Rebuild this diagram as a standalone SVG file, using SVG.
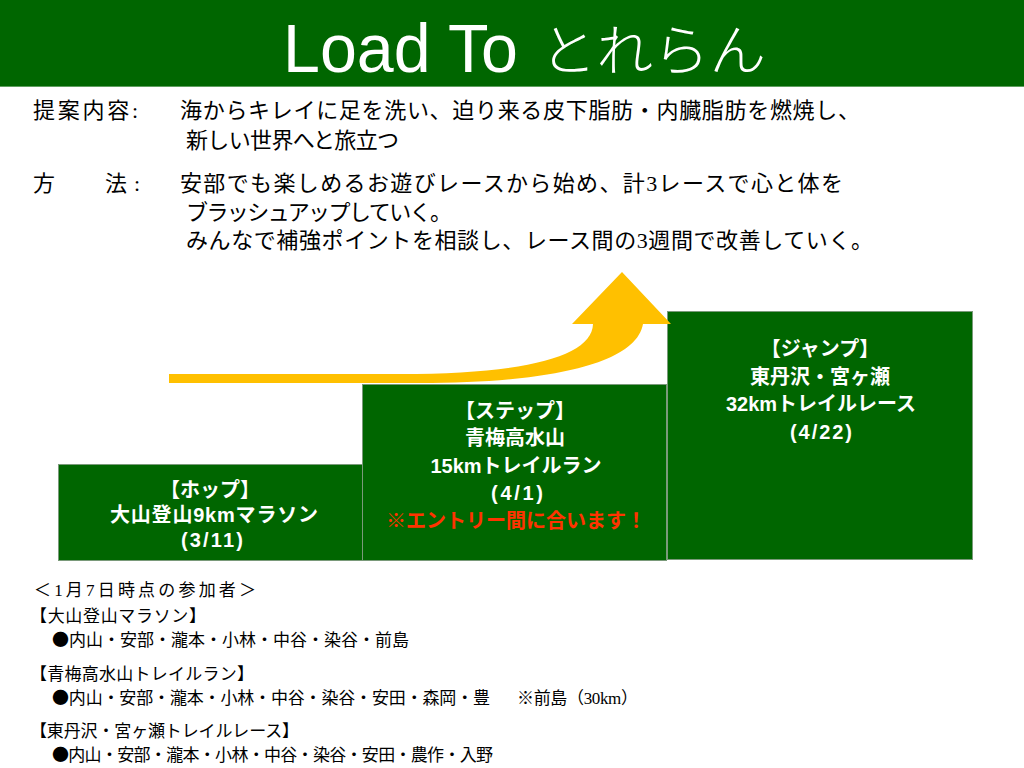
<svg xmlns="http://www.w3.org/2000/svg" width="1024" height="768" viewBox="0 0 1024 768">
<style>
.body{font-family:"Liberation Serif","Noto Sans CJK JP",serif;font-size:22px;fill:#000}
.list{font-family:"Liberation Serif","Noto Sans CJK JP",serif;font-size:17px;fill:#000}
.dot{font-family:"Noto Sans CJK JP",sans-serif}
.box{fill:#006600;stroke:#7a9a7a;stroke-width:1}
.bt{font-family:"Liberation Sans","Noto Sans CJK JP",sans-serif;font-size:20px;font-weight:bold;fill:#fff;text-anchor:middle}
.red{fill:#ff3300}
</style>
<rect x="0" y="0" width="1024" height="86" fill="#006600"/>
<line x1="0" y1="86.5" x2="1024" y2="86.5" stroke="#5f9f5f" stroke-width="1"/>
<text x="283" y="72" font-family="Liberation Sans, sans-serif" font-size="68" fill="#fff" textLength="235" lengthAdjust="spacingAndGlyphs">Load To</text>
<text x="540" y="70" font-family="Noto Sans CJK JP, sans-serif" font-weight="300" font-size="55" fill="#fff" textLength="226" lengthAdjust="spacingAndGlyphs">とれらん</text>

<g id="proposal">
<text class="body" x="33" y="118" textLength="105">提案内容:</text>
<text class="body" x="180" y="118" textLength="680">海からキレイに足を洗い、迫り来る皮下脂肪・内臓脂肪を燃焼し、</text>
<text class="body" x="186" y="148" textLength="213">新しい世界へと旅立つ</text>
<text class="body" x="33" y="191">方</text>
<text class="body" x="105" y="191" textLength="35">法:</text>
<text class="body" x="180" y="191" textLength="663">安部でも楽しめるお遊びレースから始め、計3レースで心と体を</text>
<text class="body" x="186" y="220" textLength="266">ブラッシュアップしていく。</text>
<text class="body" x="186" y="248" textLength="687">みんなで補強ポイントを相談し、レース間の3週間で改善していく。</text>
</g>

<g id="hop">
<rect class="box" x="58.5" y="464.5" width="304" height="96"/>
<text class="bt" x="210" y="497">【ホップ】</text>
<text class="bt" x="214" y="522" textLength="208">大山登山9kmマラソン</text>
<text class="bt" x="212" y="547" textLength="62">(3/11)</text>
</g>

<g id="step">
<rect class="box" x="362.5" y="384.5" width="304" height="176"/>
<text class="bt" x="515" y="418">【ステップ】</text>
<text class="bt" x="515" y="445">青梅高水山</text>
<text class="bt" x="516" y="473">15kmトレイルラン</text>
<text class="bt" x="517" y="500" textLength="52">(4/1)</text>
<text class="bt red" x="516" y="528" textLength="260">※エントリー間に合います！</text>
</g>

<g id="jump">
<rect class="box" x="667.5" y="311.5" width="305" height="248"/>
<text class="bt" x="820" y="356">【ジャンプ】</text>
<text class="bt" x="820" y="384">東丹沢・宮ヶ瀬</text>
<text class="bt" x="821" y="411">32kmトレイルレース</text>
<text class="bt" x="821" y="439" textLength="62">(4/22)</text>
</g>

<g id="arrow">
<path d="M169,374 L400,374 C528,374 592,356 593,324 L572,324 L622,272 L671,324 L643,324 C636,365 545,383 420,383 L169,383 Z" fill="#ffc000"/>
</g>

<g id="participants">
<text class="list" x="34" y="596" textLength="222">＜1月7日時点の参加者＞</text>
<text class="list" x="30" y="622" textLength="176">【大山登山マラソン】</text>
<text class="list" x="52" y="646" textLength="357"><tspan class="dot">●</tspan>内山・安部・瀧本・小林・中谷・染谷・前島</text>
<text class="list" x="30" y="680" textLength="224">【青梅高水山トレイルラン】</text>
<text class="list" x="52" y="704" textLength="438"><tspan class="dot">●</tspan>内山・安部・瀧本・小林・中谷・染谷・安田・森岡・豊</text>
<text class="list" x="517" y="704" textLength="121">※前島（30km）</text>
<text class="list" x="30" y="737" textLength="269">【東丹沢・宮ヶ瀬トレイルレース】</text>
<text class="list" x="52" y="761" textLength="441"><tspan class="dot">●</tspan>内山・安部・瀧本・小林・中谷・染谷・安田・農作・入野</text>
</g>
</svg>
